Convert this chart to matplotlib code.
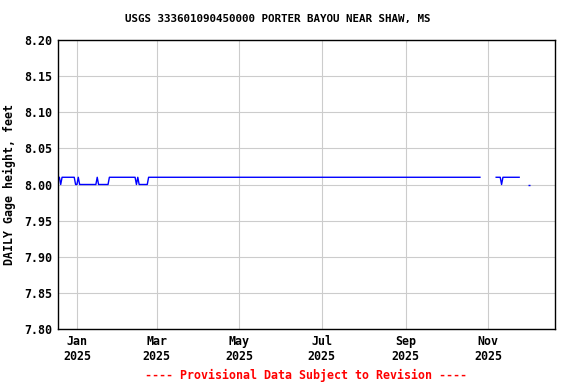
import numpy as np
import pandas as pd
import matplotlib
matplotlib.use("Agg")
import matplotlib.pyplot as plt

# run-length data: each value holds from its start date until the next start date
run_starts = ["2024-12-18", "2024-12-20", "2024-12-21", "2024-12-31", "2025-01-02",
              "2025-01-03", "2025-01-16", "2025-01-17", "2025-01-25", "2025-02-14",
              "2025-02-15", "2025-02-16", "2025-02-23", "2025-10-27", "2025-11-07",
              "2025-11-11", "2025-11-12", "2025-11-25"]
run_values = [8.01, 8.00, 8.01, 8.00, 8.01,
              8.00, 8.01, 8.00, 8.01, 8.00,
              8.01, 8.00, 8.01, np.nan, 8.01,
              8.00, 8.01, np.nan]
lone_dates = ["2025-12-01"]
lone_values = [8.00]

tick_dates = ["2025-01-01", "2025-03-01", "2025-05-01", "2025-07-01", "2025-09-01", "2025-11-01"]
tick_labels = ["Jan\n2025", "Mar\n2025", "May\n2025", "Jul\n2025", "Sep\n2025", "Nov\n2025"]

# expand runs to daily values; NaN runs stay as gaps
starts = pd.to_datetime(run_starts)
days = pd.date_range(starts[0], starts[-1], freq="D")
idx = np.searchsorted(starts.values, days.values, side="right") - 1
daily = pd.Series(np.array(run_values)[idx], index=days)

plt.rcParams['font.family'] = ['DejaVu Sans Mono']
plt.rcParams['font.weight'] = 'bold'
plt.rcParams['axes.labelweight'] = 'bold'

fig = plt.figure(figsize=(5.76, 3.84), dpi=100)
ax = fig.add_axes([58 / 576, 1 - 329 / 384, (555 - 58) / 576, (329 - 40) / 384])

ax.plot(daily.index, daily.values, color="#0000ff", linewidth=1)
ax.plot(pd.to_datetime(lone_dates), lone_values, linestyle="none", marker="_",
        markersize=2, color="#0000ff", markeredgewidth=1)

ax.set_xlim(pd.Timestamp("2024-12-18"), pd.Timestamp("2025-12-20 12:00"))
ax.set_ylim(7.80, 8.20)
ax.set_yticks(np.arange(7.80, 8.201, 0.05))
ax.yaxis.set_major_formatter(plt.FormatStrFormatter("%.2f"))
ax.set_xticks(pd.to_datetime(tick_dates))
ax.set_xticklabels(tick_labels)
ax.tick_params(axis="both", length=0, labelsize=8.4, pad=4)
ax.grid(True, color="#cccccc", linewidth=0.8)
for s in ax.spines.values():
    s.set_linewidth(1)
    s.set_color("black")

ax.set_ylabel("DAILY Gage height, feet", fontsize=8.4, labelpad=6)
fig.text(0.483, 1 - 19 / 384, "USGS 333601090450000 PORTER BAYOU NEAR SHAW, MS",
         ha="center", va="center", fontsize=7.8)
fig.text(0.531, 1 - 375 / 384, "---- Provisional Data Subject to Revision ----",
         ha="center", va="center", fontsize=8.4, color="red")

fig.savefig("out.png", dpi=100)
